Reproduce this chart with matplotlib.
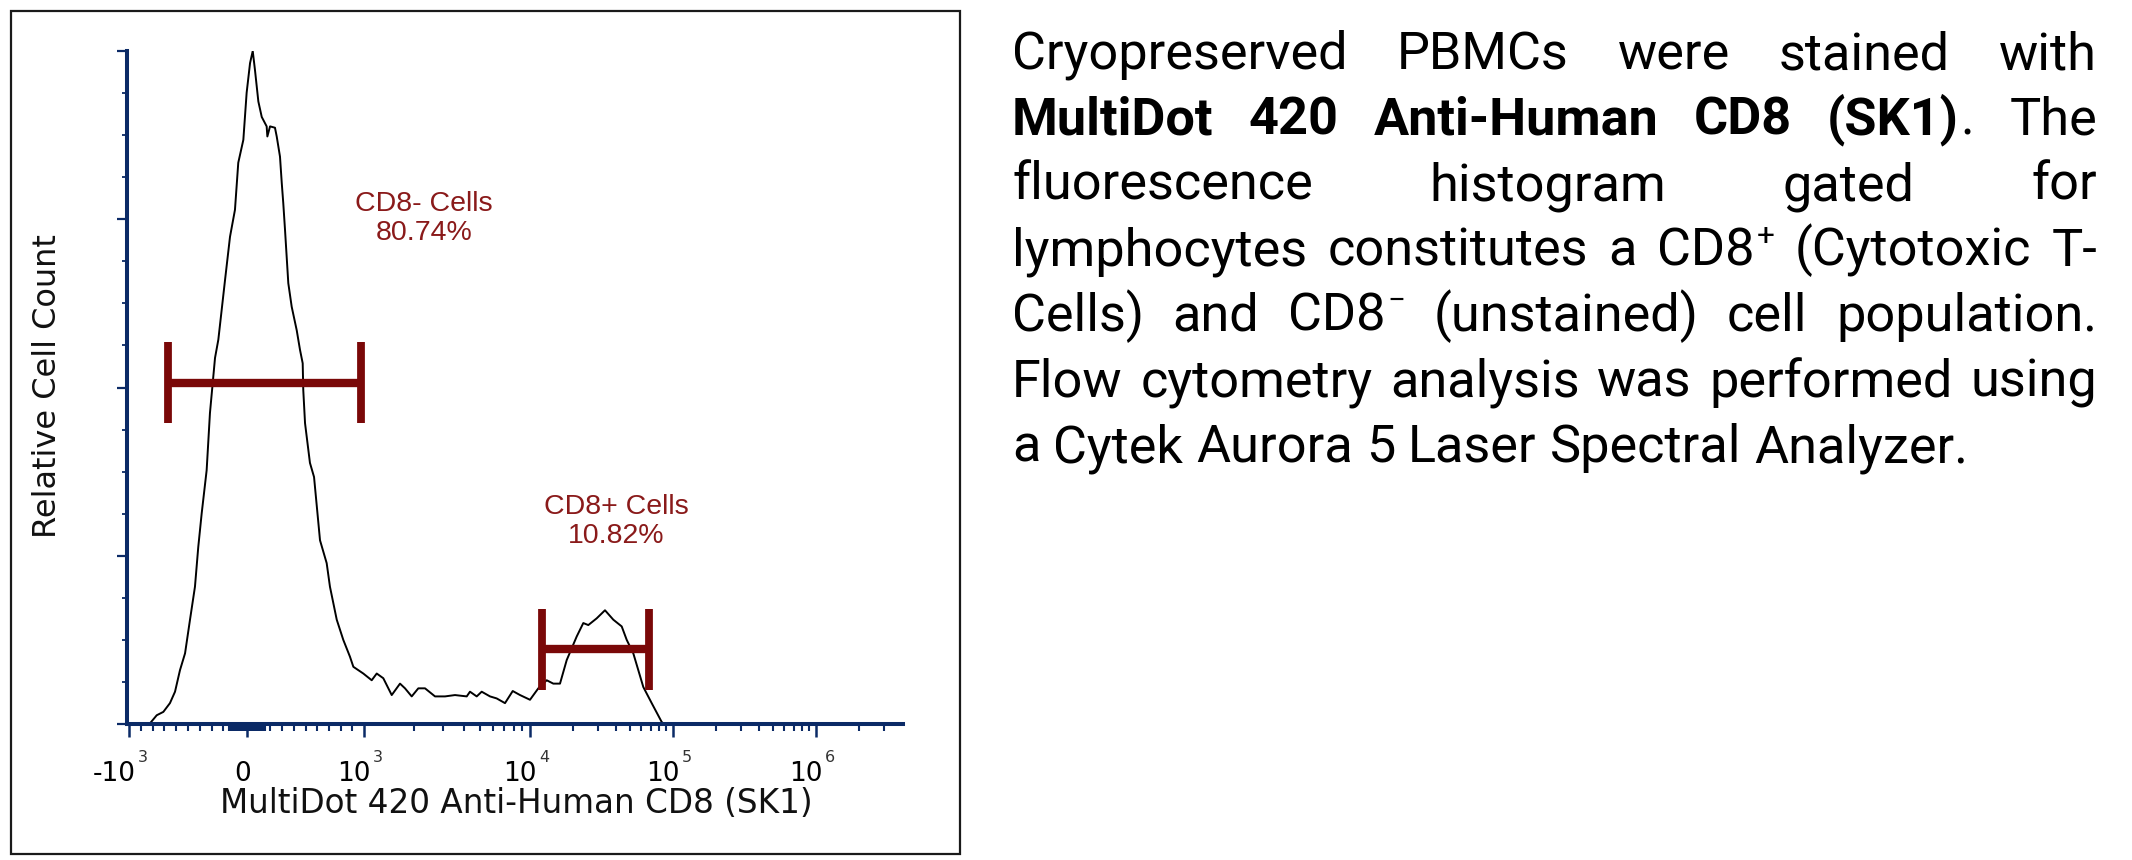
import numpy as np
import matplotlib
matplotlib.use("Agg")
import matplotlib.pyplot as plt
from matplotlib.patches import Rectangle
from matplotlib.ticker import FixedLocator, NullFormatter

W, H = 2132, 860

# histogram trace: fluorescence intensity vs relative cell count (% of modal bin)
fluor = [-822, -765, -709, -653, -610, -568, -525, -483, -441, -413, -384, -342,
         -314, -271, -243, -186, -144, -102, -74, -31, -3, 26, 49, 68, 97, 126,
         168, 174, 197, 239, 254, 282, 297, 310, 325, 353, 382, 425, 453, 476,
         481, 496, 538, 573, 624, 681, 709, 767, 823, 880, 909, 994, 1113, 1193,
         1307, 1469, 1648, 1766, 1938, 2124, 2331, 2678, 3076, 3533, 4157, 4350,
         4775, 5117, 5742, 6300, 7070, 7870, 8710, 10000, 11430, 13090, 14550,
         16210, 18060, 21210, 23590, 25570, 29270, 33450, 38240, 43780, 47460,
         52770, 61990, 70960, 83360, 85500]
count = [0.1, 1.3, 1.8, 3.1, 4.8, 8.0, 10.5, 15.5, 20.4, 26.3, 31.3, 37.7,
         46.2, 54.4, 57.1, 66.0, 72.4, 76.4, 83.4, 86.8, 93.8, 98.2, 100, 97.2,
         92.5, 90.2, 88.8, 87.3, 88.8, 88.6, 87.3, 84.3, 80.4, 77.4, 73.4, 65.5,
         62.0, 58.5, 55.6, 53.6, 49.6, 44.7, 38.8, 36.7, 27.3, 23.9, 20.4, 15.5,
         12.5, 10.0, 8.5, 7.5, 6.5, 7.5, 6.8, 4.3, 6.0, 5.3, 4.1, 5.3, 5.3, 4.1,
         4.1, 4.3, 4.1, 4.8, 4.1, 4.8, 4.1, 3.8, 3.1, 4.9, 4.3, 3.6, 5.3, 6.5,
         6.0, 6.0, 9.5, 13.0, 15.0, 14.7, 15.7, 16.9, 15.5, 14.5, 12.5, 10.5,
         5.5, 3.1, 0.3, 0.1]

# gates
gate_names = ["CD8- Cells", "CD8+ Cells"]
gate_pcts = ["80.74%", "10.82%"]
gate_lo = [-669, 12130]
gate_hi = [974, 67900]
gate_y = [50.7, 11.1]
label_x = [2298, 39900]
label_y = [75.1, 30.1]

xticks_major = [-1e3, 0, 1e3, 1e4, 1e5, 1e6]
xtick_base = ["-10", "0", "10", "10", "10", "10"]
xtick_exp = ["3", "", "3", "4", "5", "6"]

paragraph = [
    ["Cryopreserved", "PBMCs", "were", "stained", "with"],
    [[("MultiDot", "b")], [("420", "b")], [("Anti-Human", "b")], [("CD8", "b")],
     [("(SK1)", "b"), (".", "n")], "The"],
    ["fluorescence", "histogram", "gated", "for"],
    ["lymphocytes", "constitutes", "a", [("CD8", "n"), ("+", "sup")],
     "(Cytotoxic", "T-"],
    ["Cells)", "and", [("CD8", "n"), ("\u2212", "sup")], "(unstained)", "cell",
     "population."],
    ["Flow", "cytometry", "analysis", "was", "performed", "using"],
    ["a", "Cytek", "Aurora", "5", "Laser", "Spectral", "Analyzer."],
]

NAVY = "#0b2a66"
GATE = "#7a0808"
GATE_TXT = "#8a1a1a"

# logicle-like display: linear around zero, decades above 10^3
H_KNOTS = np.array([-3, -1, 0, 1, 2, 3, 4, 6], float)
P_KNOTS = np.array([-107, 129, 247, 364, 530, 673, 816, 1102], float)


def to_h(x):
    x = np.asarray(x, float)
    a = np.abs(x)
    lg = np.sign(x) * (1 + np.log10(np.maximum(a, 1e-9) / 1000))
    return np.where(a <= 1000, x / 1000, lg)


def fwd(x):
    return np.interp(to_h(x), H_KNOTS, P_KNOTS)


def inv(p):
    h = np.interp(p, P_KNOTS, H_KNOTS)
    a = np.abs(h)
    return np.where(a <= 1, 1000 * h, np.sign(h) * 1000 * 10 ** (a - 1))


fig = plt.figure(figsize=(W / 100, H / 100), dpi=100)
ax = fig.add_axes([127 / W, (H - 724) / H, (903 - 127) / W, (724 - 51) / H])
ax.set_xscale("function", functions=(fwd, inv))
ax.set_xlim(float(inv(127)), float(inv(903)))
ax.set_ylim(0, 100)

ax.plot(fluor, count, color="black", lw=1.4)

for lo, hi, gy in zip(gate_lo, gate_hi, gate_y):
    ax.plot([lo, hi], [gy, gy], color=GATE, lw=6, solid_capstyle="butt")
    for gx in (lo, hi):
        ax.plot([gx, gx], [gy - 6, gy + 6], color=GATE, lw=5.6,
                solid_capstyle="butt")

for name, pct, lx, ly in zip(gate_names, gate_pcts, label_x, label_y):
    ax.text(lx, ly, f"{name}\n{pct}", ha="center", va="center",
            multialignment="center", color=GATE_TXT, fontsize=20.5,
            family="Liberation Sans", linespacing=1.15)

# axes styling
for s in ("top", "right"):
    ax.spines[s].set_visible(False)
for s in ("left", "bottom"):
    ax.spines[s].set_color(NAVY)
    ax.spines[s].set_linewidth(2.9)

minor_x = [k * 10 for k in range(-15, 16) if k != 0]
minor_x += [k * 100 for k in range(-9, 10) if abs(k) > 1]
for e in (3, 4, 5, 6):
    minor_x += [m * 10 ** e for m in range(2, 10)]
minor_x = [v for v in minor_x if v < 4e6]
ax.xaxis.set_major_locator(FixedLocator(xticks_major))
ax.xaxis.set_minor_locator(FixedLocator(minor_x))
ax.xaxis.set_major_formatter(NullFormatter())
ax.xaxis.set_minor_formatter(NullFormatter())
ax.yaxis.set_major_locator(FixedLocator([0, 25, 50, 75, 100]))
ax.yaxis.set_minor_locator(FixedLocator([v for v in np.arange(0, 100, 6.25) if v % 25]))
ax.yaxis.set_major_formatter(NullFormatter())
ax.tick_params(axis="x", which="major", length=9, width=1.8, color=NAVY, direction="out")
ax.tick_params(axis="x", which="minor", length=5, width=1.5, color=NAVY, direction="out")
ax.tick_params(axis="y", which="major", length=7.5, width=1.6, color=NAVY, direction="out")
ax.tick_params(axis="y", which="minor", length=3.6, width=1.3, color=NAVY, direction="out")

# tick labels as base + small superscript
for t, base, ex in zip(xticks_major, xtick_base, xtick_exp):
    px = ax.transData.transform([(t, 0)])[0][0]
    if ex == "":
        fig.text((px - 4) / W, 1 - 781 / H, base, ha="center", va="baseline",
                 fontsize=19, family="DejaVu Sans")
    else:
        fig.text((px + 7) / W, 1 - 781 / H, base, ha="right", va="baseline",
                 fontsize=19, family="DejaVu Sans")
        fig.text((px + 9) / W, 1 - 762 / H, ex, ha="left", va="baseline",
                 fontsize=11.5, family="DejaVu Sans", color="#333333")

fig.text(516 / W, 1 - 813 / H, "MultiDot 420 Anti-Human CD8 (SK1)", ha="center",
         va="baseline", fontsize=23.5, family="DejaVu Sans", color="#111111")
fig.text(48 / W, 1 - 386 / H, "Relative Cell Count", rotation=90, ha="center",
         va="center", fontsize=23, family="DejaVu Sans", color="#111111")

fig.add_artist(Rectangle((11 / W, 1 - 854 / H), (960 - 11) / W, (854 - 11) / H,
                         transform=fig.transFigure, fill=False, ec="#1a1a1a", lw=1.6))

# justified paragraph on the right
renderer = fig.canvas.get_renderer()
para_left, para_right = 1012, 2097
last_line_w = 957  # natural width of the closing line
base0, lead = 69, 65.5
fam = ["Roboto", "DejaVu Sans"]


def make_run(s, style, fs):
    kw = dict(family=fam, color="black", ha="left", va="baseline")
    if style == "b":
        return fig.text(0, 0, s, fontsize=fs, fontweight="bold", **kw)
    if style == "sup":
        return fig.text(0, 0, s, fontsize=fs * 0.6, **kw)
    return fig.text(0, 0, s, fontsize=fs, **kw)


def space_width(fs):
    a = fig.text(0, 0, "n n", fontsize=fs, family=fam)
    b = fig.text(0, 0, "nn", fontsize=fs, family=fam)
    w = a.get_window_extent(renderer).width - b.get_window_extent(renderer).width
    a.remove()
    b.remove()
    return w


def build_words(line, fs):
    words = []
    for w in line:
        runs = [(w, "n")] if isinstance(w, str) else w
        arts = [(make_run(s, st, fs), st) for s, st in runs]
        widths = [a.get_window_extent(renderer).width + (2 if k < len(arts) - 1 else 0)
                  for k, (a, st) in enumerate(arts)]
        words.append((arts, widths))
    return words


# size the font so the last (unjustified) line has its natural width
fs0 = 32
probe = build_words(paragraph[-1], fs0)
nat = sum(sum(ws) for _, ws in probe) + space_width(fs0) * (len(probe) - 1)
for arts, _ in probe:
    for a, _ in arts:
        a.remove()
fs = fs0 * last_line_w / nat
space_w = space_width(fs)

for i, line in enumerate(paragraph):
    y = base0 + i * lead
    words = build_words(line, fs)
    total = sum(sum(ws) for _, ws in words)
    if i < len(paragraph) - 1:
        gap = (para_right - para_left - total) / (len(words) - 1)
    else:
        gap = space_w
    x = para_left
    for arts, widths in words:
        for (a, st), wd in zip(arts, widths):
            yy = y - (fs * 0.55 if st == "sup" else 0)
            a.set_position((x / W, 1 - yy / H))
            x += wd
        x += gap

fig.savefig("out.png", dpi=100)
